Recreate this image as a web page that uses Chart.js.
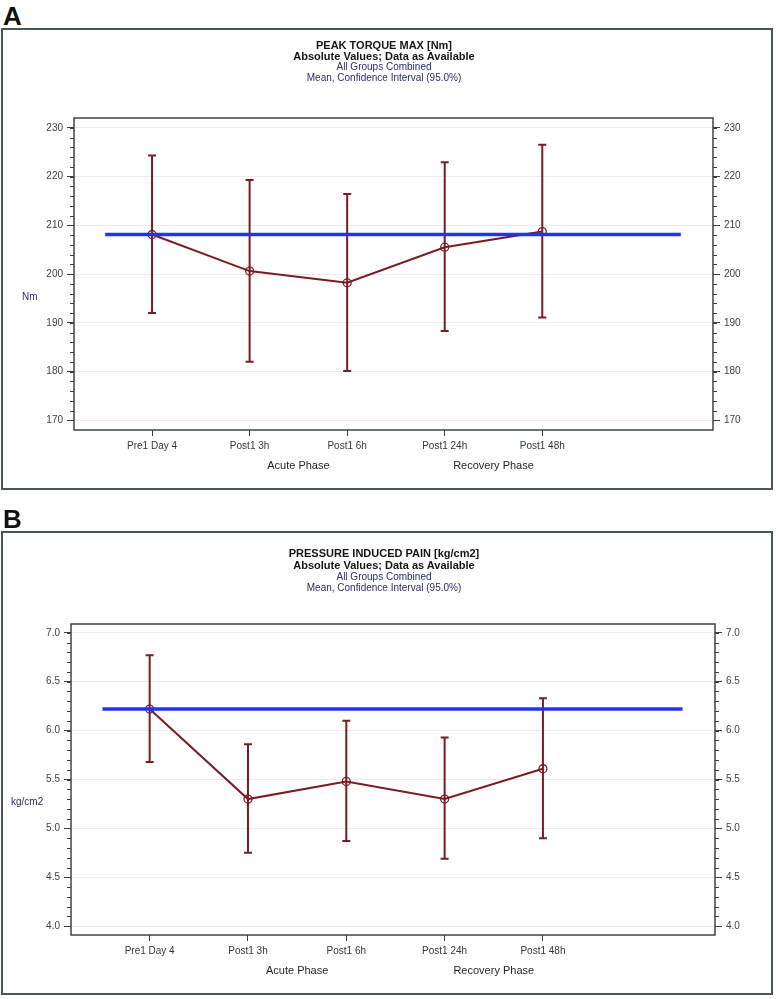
<!DOCTYPE html>
<html><head><meta charset="utf-8">
<script src="https://cdn.jsdelivr.net/npm/chart.js@4.4.1/dist/chart.umd.min.js"></script>
<style>
html,body{margin:0;padding:0;background:#fff}
body{width:780px;height:999px;position:relative;overflow:hidden;font-family:"Liberation Sans",Arial,sans-serif}
.lab{position:absolute;left:3px;font-weight:bold;font-size:26px;line-height:26px;color:#111}
.box{position:absolute;left:1px;width:768px;border:2px solid #4b5757;background:#fff}
.t{position:absolute;left:-3px;width:768px;text-align:center;line-height:12px;white-space:nowrap}
.t1{font-weight:bold;font-size:11px;color:#151515}
.t2{font-size:10px;color:#2b2f6b}
.unit{position:absolute;font-size:10px;color:#2b2f6b;line-height:12px}
canvas{position:absolute;left:0;top:0}
</style>
</head><body>
<div class="lab" style="top:3px">A</div>
<div class="box" style="top:28px;height:458px">
  <canvas id="cA" width="768" height="458" style="width:768px;height:458px"></canvas>
  <div class="t t1" style="top:9px">PEAK TORQUE MAX [Nm]</div>
  <div class="t t1" style="top:20px">Absolute Values; Data as Available</div>
  <div class="t t2" style="top:31px">All Groups Combined</div>
  <div class="t t2" style="top:42px">Mean, Confidence Interval (95.0%)</div>
  <div class="unit" style="left:19px;top:261px">Nm</div>
</div>
<div class="lab" style="top:506px">B</div>
<div class="box" style="top:531px;height:460px">
  <canvas id="cB" width="768" height="460" style="width:768px;height:460px"></canvas>
  <div class="t t1" style="top:14px">PRESSURE INDUCED PAIN [kg/cm2]</div>
  <div class="t t1" style="top:26px">Absolute Values; Data as Available</div>
  <div class="t t2" style="top:38px">All Groups Combined</div>
  <div class="t t2" style="top:49px">Mean, Confidence Interval (95.0%)</div>
  <div class="unit" style="left:8px;top:263px">kg/cm2</div>
</div>
<script>
// ---- data ----
const categories = ['Pre1 Day 4', 'Post1 3h', 'Post1 6h', 'Post1 24h', 'Post1 48h'];
const phaseLabels = ['Acute Phase', 'Recovery Phase'];
const phaseAt = [1.5, 3.5];
const refLineX = [-0.48, 5.42];

const torqueMean  = [208.1, 200.6, 198.2, 205.5, 208.7];
const torqueLower = [192.0, 182.0, 180.1, 188.3, 191.1];
const torqueUpper = [224.3, 219.3, 216.4, 222.9, 226.5];
const torqueRef   = 208.1;
const torqueTicks = [170, 180, 190, 200, 210, 220, 230];
const torqueMinorStep = 2;

const painMean  = [6.22, 5.30, 5.48, 5.30, 5.61];
const painLower = [5.68, 4.75, 4.87, 4.69, 4.90];
const painUpper = [6.77, 5.86, 6.10, 5.93, 6.33];
const painRef   = 6.22;
const painTicks = [4.0, 4.5, 5.0, 5.5, 6.0, 6.5, 7.0];
const painMinorStep = 0.1;

Chart.defaults.font.family = '"Liberation Sans", Arial, sans-serif';

const MAROON = '#7a1c25';
const BLUE = '#2233f5';
const FRAME = '#3c4646';
const TICKCOL = '#3a4040';

const extrasPlugin = {
  id: 'extras',
  beforeDatasetsDraw(chart, args, opts) {
    const {ctx} = chart;
    const x = chart.scales.x, y = chart.scales.y;
    ctx.save();
    ctx.strokeStyle = MAROON;
    ctx.lineWidth = 2;
    opts.lower.forEach((lo, i) => {
      const px = x.getPixelForValue(i);
      const pl = y.getPixelForValue(lo), pu = y.getPixelForValue(opts.upper[i]);
      ctx.beginPath();
      ctx.moveTo(px, pl); ctx.lineTo(px, pu);
      ctx.moveTo(px - 4, pl); ctx.lineTo(px + 4, pl);
      ctx.moveTo(px - 4, pu); ctx.lineTo(px + 4, pu);
      ctx.stroke();
    });
    ctx.restore();
  },
  afterDraw(chart, args, opts) {
    const {ctx, chartArea: a} = chart;
    const x = chart.scales.x, y = chart.scales.y;
    ctx.save();
    // frame
    ctx.strokeStyle = FRAME;
    ctx.lineWidth = 1.5;
    ctx.strokeRect(a.left, a.top, a.right - a.left, a.bottom - a.top);
    // minor ticks on both sides
    ctx.strokeStyle = TICKCOL;
    ctx.lineWidth = 1;
    const t0 = opts.ticks[0], t1 = opts.ticks[opts.ticks.length - 1];
    const n = Math.round((t1 - t0) / opts.minor);
    for (let k = 0; k <= n; k++) {
      const v = t0 + k * opts.minor;
      const py = Math.round(y.getPixelForValue(v)) + 0.5;
      ctx.beginPath();
      ctx.moveTo(a.left - 4, py); ctx.lineTo(a.left, py);
      ctx.moveTo(a.right, py); ctx.lineTo(a.right + 4, py);
      ctx.stroke();
    }
    // phase labels
    ctx.fillStyle = '#1e2424';
    ctx.font = '11px "Liberation Sans", Arial, sans-serif';
    ctx.textAlign = 'center';
    ctx.textBaseline = 'middle';
    phaseLabels.forEach((lab, i) => {
      ctx.fillText(lab, x.getPixelForValue(phaseAt[i]), a.bottom + 36);
    });
    ctx.restore();
  }
};

function makeChart(id, mean, lower, upper, ref, ticks, minor, yMin, yMax, dims, decimals) {
  const yAxis = (pos, w, grid) => ({
    type: 'linear', position: pos, min: yMin, max: yMax,
    afterBuildTicks: ax => { ax.ticks = ticks.map(v => ({value: v})); },
    afterFit: s => { s.width = w; },
    ticks: { color: '#3a3f48', font: {size: 10}, padding: 4,
             callback: v => Number(v).toFixed(decimals) },
    grid: { drawOnChartArea: grid, color: '#ececec', lineWidth: 1,
            tickColor: TICKCOL, tickLength: 7 },
    border: { display: false }
  });
  return new Chart(document.getElementById(id), {
    type: 'line',
    data: {
      datasets: [
        { data: refLineX.map(v => ({x: v, y: ref})), borderColor: BLUE, borderWidth: 3.5,
          pointRadius: 0, tension: 0 },
        { data: mean.map((m, i) => ({x: i, y: m})), borderColor: MAROON, borderWidth: 2,
          pointRadius: 4, pointBorderWidth: 1.3, pointBackgroundColor: 'rgba(255,255,255,0)',
          pointBorderColor: MAROON, tension: 0 }
      ]
    },
    options: {
      responsive: false, animation: false,
      layout: { padding: { top: dims.top, left: 0, right: 0, bottom: 0 } },
      plugins: { legend: {display: false}, tooltip: {enabled: false},
                 extras: { lower, upper, ticks, minor } },
      scales: {
        x: { type: 'linear', min: -0.8, max: 5.75,
             afterBuildTicks: ax => { ax.ticks = categories.map((c, i) => ({value: i})); },
             afterFit: s => { s.height = dims.bottom; },
             ticks: { autoSkip: false, maxRotation: 0, color: '#2f3a3a', font: {size: 10}, padding: 4,
                      callback: v => categories[v] },
             grid: { drawOnChartArea: false, tickColor: TICKCOL, tickLength: 6 },
             border: { display: false } },
        y: yAxis('left', dims.left, true),
        y2: yAxis('right', dims.right, false)
      }
    },
    plugins: [extrasPlugin]
  });
}

makeChart('cA', torqueMean, torqueLower, torqueUpper, torqueRef, torqueTicks, torqueMinorStep,
          168, 232, {top: 88, bottom: 58, left: 71, right: 58}, 0);
makeChart('cB', painMean, painLower, painUpper, painRef, painTicks, painMinorStep,
          3.91, 7.09, {top: 91, bottom: 58, left: 68, right: 56}, 1);
</script>
</body></html>
